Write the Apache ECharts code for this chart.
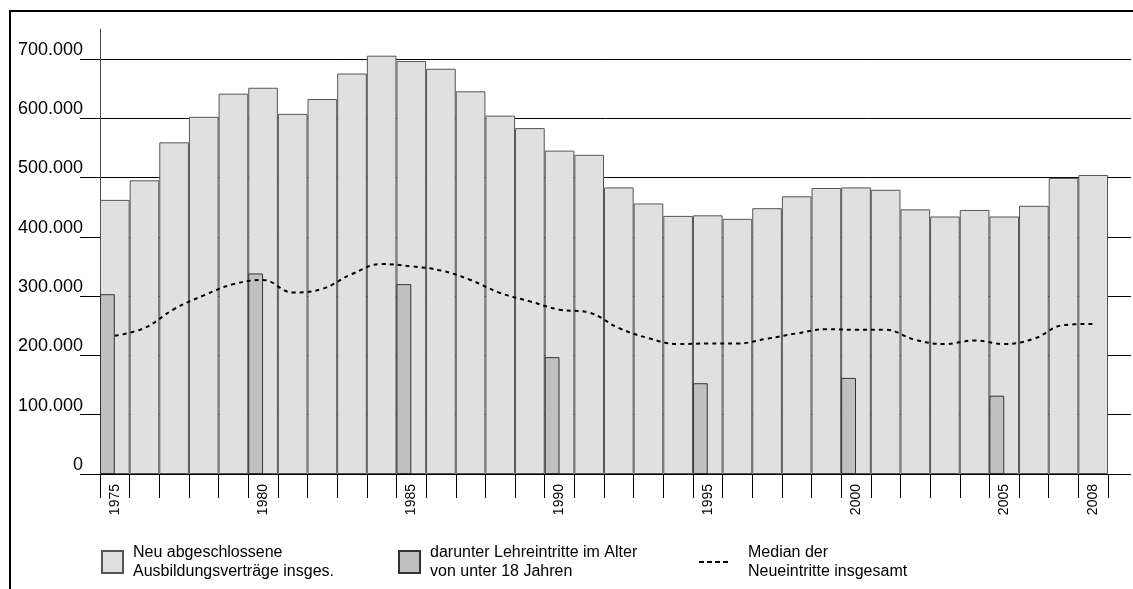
<!DOCTYPE html>
<html><head><meta charset="utf-8">
<script src="https://cdn.jsdelivr.net/npm/echarts@6/dist/echarts.min.js"></script>
<style>html,body{margin:0;padding:0;background:#fff}#c{width:1133px;height:589px}</style>
</head><body><div id="c"></div>
<script>
const years = ['1975','1976','1977','1978','1979','1980','1981','1982','1983','1984',
  '1985','1986','1987','1988','1989','1990','1991','1992','1993','1994',
  '1995','1996','1997','1998','1999','2000','2001','2002','2003','2004',
  '2005','2006','2007','2008'];
const labelYears = ['1975','1980','1985','1990','1995','2000','2005','2008'];
const totals = [462000,495000,559000,602000,641000,651000,607000,632000,675000,705000,
  696000,683000,645000,604000,583000,545000,538000,483000,456000,435000,
  436000,430000,448000,468000,482000,483000,479000,446000,434000,445000,
  434000,452000,499000,504000];
const under18 = [303000,null,null,null,null,338000,null,null,null,null,
  320000,null,null,null,null,197000,null,null,null,null,
  153000,null,null,null,null,162000,null,null,null,null,
  132000,null,null,null];
const median = [233000,246000,278000,301000,320000,327000,306000,312000,337000,354000,
  350000,343000,327000,305000,291000,277000,272000,246000,229000,219000,
  220000,220000,228000,237000,244000,243000,243000,226000,219000,225000,
  219000,228000,251000,253000];
const yTicks = [0,100000,200000,300000,400000,500000,600000,700000];

const nameTotal = 'Neu abgeschlossene\nAusbildungsverträge insges.';
const nameU18 = 'darunter Lehreintritte im Alter\nvon unter 18 Jahren';
const nameMed = 'Median der\nNeueintritte insgesamt';
const FF = '"Liberation Sans", Arial, sans-serif';

const chart = echarts.init(document.getElementById('c'), null, {renderer:'canvas'});
const legendText = (pad) => ({fontSize:16, lineHeight:19, color:'#000', fontFamily:FF, padding:[0,0,0,pad]});
chart.setOption({
  animation:false,
  backgroundColor:'#fff',
  textStyle:{fontFamily:FF},
  graphic:[{type:'rect', shape:{x:10,y:11,width:1200,height:700}, style:{fill:'none',stroke:'#000',lineWidth:2}, silent:true}],
  grid:[{left:100,right:25,top:29,bottom:115},{left:80,right:2,top:59,bottom:115}],
  legend:[
    {data:[nameTotal], left:101, top:543, padding:0, itemWidth:21, itemHeight:22, icon:'rect', textStyle:legendText(5), selectedMode:false},
    {data:[nameU18], left:398, top:543, padding:0, itemWidth:21, itemHeight:22, icon:'rect', textStyle:legendText(5), selectedMode:false},
    {data:[{name:nameMed, icon:'path://M0,0h5v2h-5z M8,0h5v2h-5z M16,0h5v2h-5z M24,0h5v2h-5z', itemStyle:{color:'#000',borderWidth:0}}], left:699, top:543, padding:0, itemWidth:29, itemHeight:2, textStyle:legendText(15), selectedMode:false}
  ],
  xAxis:[
    {gridIndex:0, type:'category', data:years, boundaryGap:true,
     axisLine:{lineStyle:{color:'#000',width:1}},
     axisTick:{show:true, interval:0, length:24, lineStyle:{color:'#000'}},
     axisLabel:{interval:(i,v)=>labelYears.indexOf(v)>=0, rotate:90, margin:10, fontSize:14, color:'#000', fontFamily:FF}},
    {gridIndex:1, type:'value', show:false, min:0, max:1}
  ],
  yAxis:[
    {gridIndex:0, type:'value', min:0, max:750000, interval:100000,
     axisLine:{show:true, lineStyle:{color:'#444',width:1}},
     axisTick:{show:false}, splitLine:{show:false},
     axisLabel:{margin:17, fontSize:18, color:'#000', fontFamily:FF, verticalAlign:'bottom', showMaxLabel:false,
       formatter:(v)=> yTicks.indexOf(v)<0 ? '' : (v===0 ? '0' : (v/1000)+'.000')}},
    {gridIndex:1, type:'value', min:0, max:700000, interval:100000,
     axisLine:{show:false}, axisTick:{show:false}, axisLabel:{show:false},
     splitLine:{show:true, lineStyle:{color:'#000', width:1}}}
  ],
  series:[
    {name:nameU18, type:'bar', xAxisIndex:0, yAxisIndex:0, data:under18, barWidth:'50%', barGap:'-100%', z:3,
     itemStyle:{color:'#c0c0c0', borderColor:'#333', borderWidth:1}},
    {name:nameTotal, type:'bar', xAxisIndex:0, yAxisIndex:0, data:totals, barWidth:'100%', barGap:'-100%', z:2,
     itemStyle:{color:'#e0e0e0', borderColor:'#555', borderWidth:1}},
    {name:nameMed, type:'line', xAxisIndex:0, yAxisIndex:0, data:median, smooth:0.4, symbol:'none', z:4,
     lineStyle:{color:'#000', width:2, type:[4,4]}, itemStyle:{color:'#000'}}
  ]
});
</script></body></html>
